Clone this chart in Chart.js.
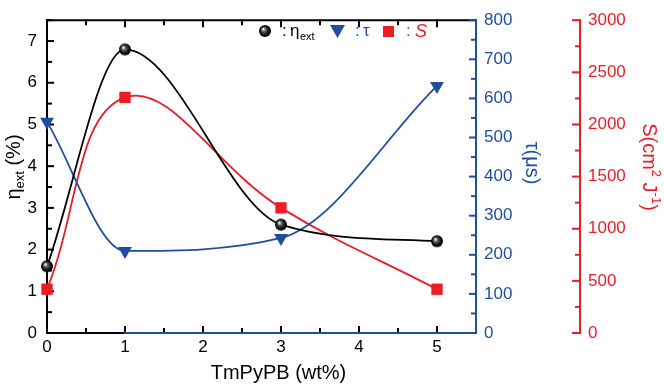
<!DOCTYPE html>
<html>
<head>
<meta charset="utf-8">
<script src="https://cdn.jsdelivr.net/npm/chart.js@4.4.1/dist/chart.umd.min.js"></script>
<style>
  html, body { margin: 0; padding: 0; background: #fff; }
  #wrap { width: 664px; height: 389px; }
</style>
</head>
<body>
<div id="wrap"><canvas id="myChart"></canvas></div>
<script>
// values
const loading = [0, 1, 3, 5];            // TmPyPB (wt%)
const etaExt = [1.6, 6.8, 2.6, 2.2];     // %
const tau = [540, 210, 243, 632];        // us
const sens = [420, 2260, 1200, 420];     // cm2 J-1

const xTicks = [0, 1, 2, 3, 4, 5];
const etaTicks = [0, 1, 2, 3, 4, 5, 6, 7];
const tauTicks = [0, 100, 200, 300, 400, 500, 600, 700, 800];
const sTicks = [0, 500, 1000, 1500, 2000, 2500, 3000];

const BLUE = '#1f4e9e';
const RED = '#ec1c24';
const FONT = "'Liberation Sans', Arial, sans-serif";

function makeSphere(r) {
    const c = document.createElement('canvas');
    const d = r * 2 + 2;
    c.width = d; c.height = d;
    const g = c.getContext('2d');
    const grad = g.createRadialGradient(d / 2 - r * 0.3, d / 2 - r * 0.35, r * 0.05, d / 2, d / 2, r);
    grad.addColorStop(0, '#ffffff');
    grad.addColorStop(0.3, '#666');
    grad.addColorStop(0.7, '#111');
    grad.addColorStop(1, '#000');
    g.fillStyle = grad;
    g.beginPath();
    g.arc(d / 2, d / 2, r, 0, Math.PI * 2);
    g.fill();
    return c;
}
const sphere = makeSphere(6);

function pts(ys) {
    return loading.map((x, i) => ({ x: x, y: ys[i] }));
}

function fixTicks(list) {
    return function(scale) {
        scale.ticks = list.map(v => ({ value: v }));
    };
}

function line(ctx, x1, y1, x2, y2) {
    ctx.beginPath();
    ctx.moveTo(x1, y1);
    ctx.lineTo(x2, y2);
    ctx.stroke();
}

function richText(ctx, runs, cx, cy, angle, color) {
    ctx.save();
    ctx.translate(cx, cy);
    ctx.rotate(angle);
    ctx.fillStyle = color;
    ctx.textBaseline = 'alphabetic';
    let w = 0;
    runs.forEach(r => {
        ctx.font = (r.italic ? 'italic ' : '') + r.size + 'px ' + FONT;
        r.w = ctx.measureText(r.t).width;
        w += r.w;
    });
    let xx = -w / 2;
    runs.forEach(r => {
        ctx.font = (r.italic ? 'italic ' : '') + r.size + 'px ' + FONT;
        ctx.fillText(r.t, xx, 7 + (r.dy || 0));
        xx += r.w;
    });
    ctx.restore();
}

const frame = {
    id: 'frame',
    beforeDatasetsDraw(chart) {
        const { ctx, chartArea: a, scales } = chart;
        const x = scales.x, y = scales.y, yTau = scales.yTau, yS = scales.yS;
        ctx.save();
        ctx.lineWidth = 2;
        ctx.lineCap = 'square';

        // black frame: left, top, bottom
        ctx.strokeStyle = '#000';
        line(ctx, a.left, a.top, a.left, a.bottom);
        line(ctx, a.left, a.top, a.right, a.top);
        line(ctx, a.left, a.bottom, a.right, a.bottom);
        for (let v = 0; v <= 7.5; v += 0.5) {
            const py = y.getPixelForValue(v);
            line(ctx, a.left, py, a.left + (v % 1 === 0 ? 6 : 4), py);
        }
        for (let v = 0; v <= 5.5; v += 0.5) {
            const px = x.getPixelForValue(v);
            const len = v % 1 === 0 ? 6 : 4;
            line(ctx, px, a.bottom, px, a.bottom - len);
            line(ctx, px, a.top, px, a.top + len);
        }

        // blue axis
        ctx.strokeStyle = BLUE;
        line(ctx, x.getPixelForValue(1), a.bottom, a.right, a.bottom);
        line(ctx, a.right, a.top, a.right, a.bottom);
        for (let v = 0; v <= 800; v += 50) {
            const py = yTau.getPixelForValue(v);
            line(ctx, a.right, py, a.right - (v % 100 === 0 ? 6 : 4), py);
        }

        // red axis
        ctx.strokeStyle = RED;
        const rx = yS.left;
        line(ctx, rx, a.top, rx, a.bottom);
        for (let v = 0; v <= 3000; v += 250) {
            const py = yS.getPixelForValue(v);
            line(ctx, rx, py, rx - (v % 500 === 0 ? 7 : 4), py);
        }
        ctx.restore();
    },
    afterDraw(chart) {
        const { ctx, chartArea: a, scales } = chart;
        // axis titles
        richText(ctx, [
            { t: 'η', size: 20 },
            { t: 'ext', size: 13, dy: 4 },
            { t: ' (%)', size: 20 }
        ], 13, 167, -Math.PI / 2, '#000');
        richText(ctx, [{ t: 'TmPyPB (wt%)', size: 20 }], (a.left + a.right) / 2 + 17, 372, 0, '#000');
        richText(ctx, [{ t: 'τ(μs)', size: 20 }], a.right + 57, 163, Math.PI / 2, BLUE);
        richText(ctx, [
            { t: 'S(cm', size: 20 },
            { t: '2', size: 13, dy: -9 },
            { t: ' J', size: 20 },
            { t: '-1', size: 13, dy: -9 },
            { t: ')', size: 20 }
        ], scales.yS.left + 70, 167, Math.PI / 2, RED);

        // legend
        ctx.save();
        const ly = 31;
        ctx.drawImage(sphere, 265 - sphere.width / 2, ly - sphere.height / 2);
        ctx.textBaseline = 'alphabetic';
        ctx.fillStyle = '#000';
        ctx.font = '17px ' + FONT;
        ctx.fillText(':', 282, ly + 5);
        ctx.fillText('η', 290, ly + 5);
        ctx.font = '11px ' + FONT;
        ctx.fillText('ext', 300, ly + 9);

        ctx.fillStyle = BLUE;
        ctx.beginPath();
        ctx.moveTo(330, ly - 6);
        ctx.lineTo(345, ly - 6);
        ctx.lineTo(337.5, ly + 7);
        ctx.closePath();
        ctx.fill();
        ctx.font = '17px ' + FONT;
        ctx.fillText(':', 355, ly + 5);
        ctx.fillText('τ', 363, ly + 5);

        ctx.fillStyle = RED;
        ctx.fillRect(383, ly - 5, 11, 11);
        ctx.fillText(':', 406, ly + 5);
        ctx.font = 'italic 18px ' + FONT;
        ctx.fillText('S', 415, ly + 6);
        ctx.restore();
    }
};

const tickFont = { size: 17, family: FONT };
const noGrid = { display: false, drawTicks: false };
const plain = v => String(v);

const ctx = document.getElementById('myChart').getContext('2d');
const myChart = new Chart(ctx, {
    type: 'line',
    data: {
        datasets: [{
            label: 'ηext',
            data: pts(etaExt),
            yAxisID: 'y',
            borderColor: '#000',
            backgroundColor: '#000',
            borderWidth: 1.8,
            pointStyle: sphere,
            pointRadius: 6,
            cubicInterpolationMode: 'monotone',
            clip: false
        }, {
            label: 'τ',
            data: pts(tau),
            yAxisID: 'yTau',
            borderColor: BLUE,
            backgroundColor: BLUE,
            borderWidth: 1.8,
            pointStyle: 'triangle',
            rotation: 180,
            pointRadius: 8,
            pointBorderWidth: 0,
            cubicInterpolationMode: 'monotone',
            clip: false
        }, {
            label: 'S',
            data: pts(sens),
            yAxisID: 'yS',
            borderColor: RED,
            backgroundColor: RED,
            borderWidth: 1.8,
            pointStyle: 'rect',
            pointRadius: 8,
            pointBorderWidth: 0,
            tension: 0.4,
            clip: false
        }]
    },
    options: {
        responsive: true,
        maintainAspectRatio: false,
        animation: false,
        layout: { padding: { top: 10, left: 0, right: 0, bottom: 0 } },
        plugins: {
            legend: { display: false },
            tooltip: { enabled: false }
        },
        scales: {
            x: {
                type: 'linear',
                min: 0,
                max: 5.5,
                afterBuildTicks: fixTicks(xTicks),
                afterFit: s => { s.height = 56; },
                grid: noGrid,
                border: { display: false },
                ticks: { color: '#000', font: tickFont, padding: 4, maxRotation: 0, autoSkip: false, callback: plain }
            },
            y: {
                position: 'left',
                min: 0,
                max: 7.5,
                afterBuildTicks: fixTicks(etaTicks),
                afterFit: s => { s.width = 47; },
                grid: noGrid,
                border: { display: false },
                ticks: { color: '#000', font: tickFont, padding: 10, callback: plain }
            },
            yTau: {
                position: 'right',
                min: 0,
                max: 800,
                afterBuildTicks: fixTicks(tauTicks),
                afterFit: s => { s.width = 104; },
                grid: noGrid,
                border: { display: false },
                ticks: { color: BLUE, font: tickFont, padding: 8, callback: plain }
            },
            yS: {
                position: 'right',
                min: 0,
                max: 3000,
                afterBuildTicks: fixTicks(sTicks),
                afterFit: s => { s.width = 84; },
                grid: noGrid,
                border: { display: false },
                ticks: { color: RED, font: tickFont, padding: 8, callback: plain }
            }
        }
    },
    plugins: [frame]
});
</script>
</body>
</html>
